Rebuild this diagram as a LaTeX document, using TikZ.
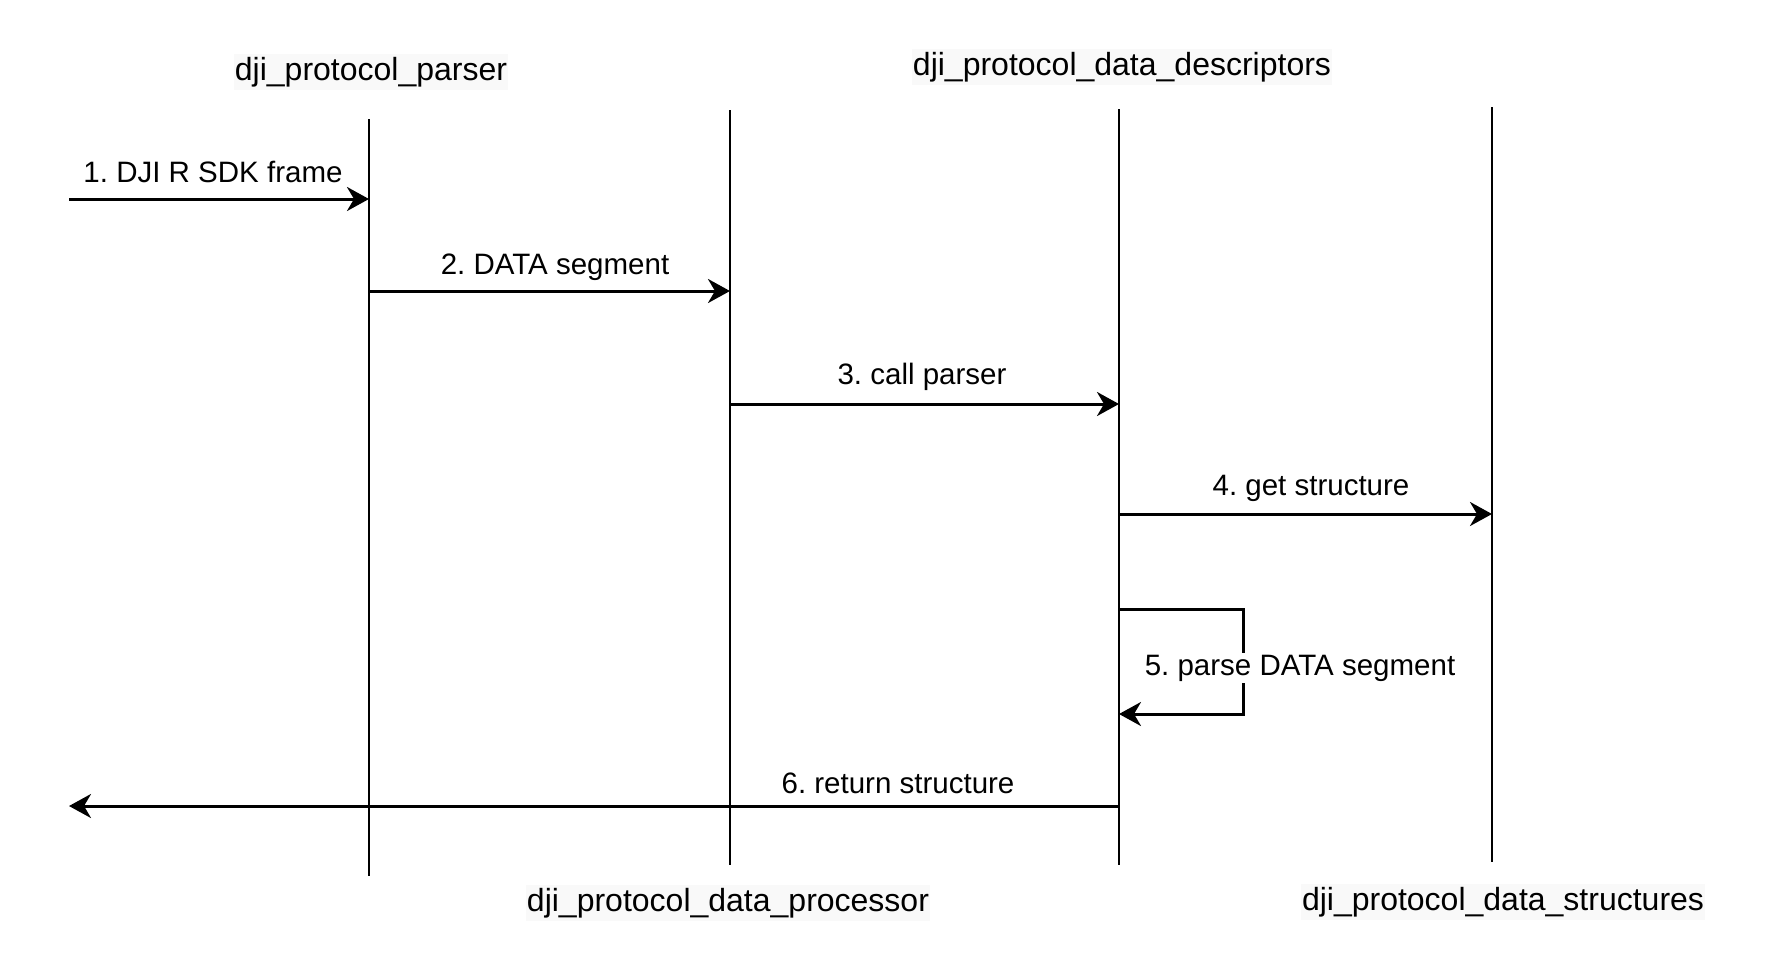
\documentclass[tikz,border=0pt]{standalone}
\usepackage{fontspec}
\setmainfont{Liberation Sans}
\usetikzlibrary{arrows.meta}
\frenchspacing
\begin{document}
\begin{tikzpicture}[x=1pt,y=-1pt,
  lifeline/.style={line width=2pt,black},
  msg/.style={line width=3pt,black,-{Stealth[length=22pt,width=24pt,inset=7pt]}},
  title/.style={fill={rgb,255:red,249;green,249;blue,249},inner xsep=1pt,inner ysep=3pt,font=\fontsize{32pt}{36pt}\selectfont},
  lbl/.style={inner sep=2pt,font=\fontsize{29.5pt}{34pt}\selectfont},
  lblbg/.style={lbl,fill=white}]
\useasboundingbox (0,0) rectangle (1782,970);
% lifelines
\coordinate (L1t) at (369,119); \coordinate (L1b) at (369,876);
\coordinate (L2t) at (730,110); \coordinate (L2b) at (730,865);
\coordinate (L3t) at (1119,109); \coordinate (L3b) at (1119,865);
\coordinate (L4t) at (1492,107); \coordinate (L4b) at (1492,862);
\draw[lifeline] (L1t) -- (L1b);
\draw[lifeline] (L2t) -- (L2b);
\draw[lifeline] (L3t) -- (L3b);
\draw[lifeline] (L4t) -- (L4b);
% titles
\node[title] (t1) at (371,72) {dji\_protocol\_parser};
\node[title] (t3) at (1122,67) {dji\_protocol\_data\_descriptors};
\node[title] (t2) at (728,903) {dji\_protocol\_data\_processor};
\node[title] (t4) at (1503,902) {dji\_protocol\_data\_structures};
% message endpoints
\coordinate (in1) at (69,199);
\coordinate (m1e) at (369,199);
\coordinate (m2s) at (369,291); \coordinate (m2e) at (730,291);
\coordinate (m3s) at (730,404); \coordinate (m3e) at (1119,404);
\coordinate (m4s) at (1119,514); \coordinate (m4e) at (1492,514);
\coordinate (m5s) at (1119,609); \coordinate (m5a) at (1243,609);
\coordinate (m5b) at (1243,714); \coordinate (m5e) at (1119,714);
\coordinate (m6s) at (1119,806); \coordinate (out6) at (69,806);
% messages
\draw[msg] (in1) -- (m1e);
\draw[msg] (m2s) -- (m2e);
\draw[msg] (m3s) -- (m3e);
\draw[msg] (m4s) -- (m4e);
\draw[msg] (m5s) -- (m5a) -- (m5b) -- (m5e);
\draw[msg] (m6s) -- (out6);
% labels
\node[lbl] (l1) at (213,172) {1. DJI R SDK frame};
\node[lbl] (l2) at (555,267) {2. DATA segment};
\node[lbl] (l3) at (922,377) {3. call parser};
\node[lbl] (l4) at (1311,488) {4. get structure};
\node[lblbg] (l5) at (1300,668) {5. parse DATA segment};
\node[lbl] (l6) at (898,783) {6. return structure};
\end{tikzpicture}
\end{document}
